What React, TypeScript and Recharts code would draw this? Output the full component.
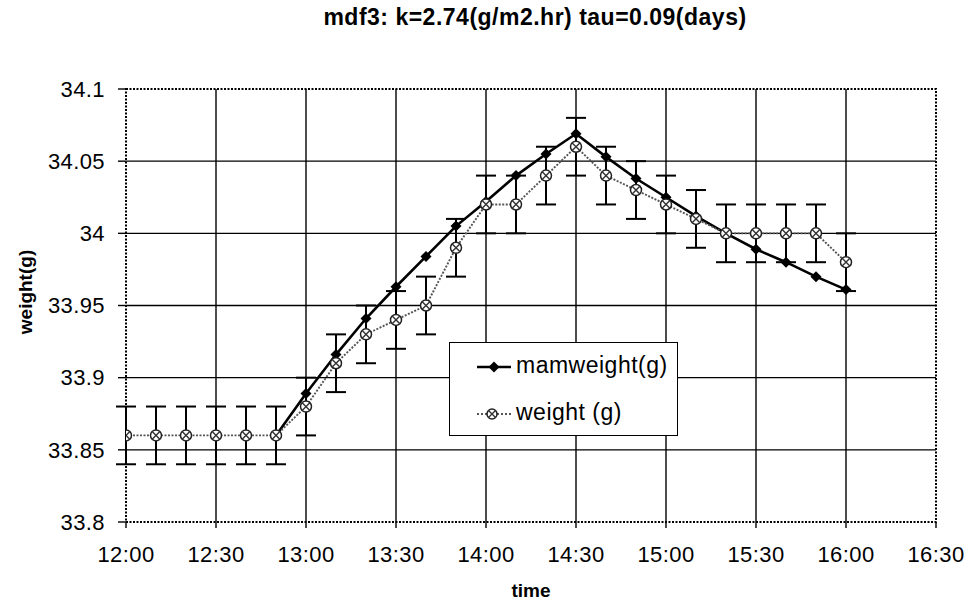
import React from "react"
import {
    LineChart,
    Line,
    XAxis,
    YAxis,
    CartesianGrid,
    ErrorBar,
    Legend,
    ReferenceArea,
} from "recharts"

// ─── Data ────────────────────────────────────────────────────────────────────

const TIMES = [
    "12:00", "12:10", "12:20", "12:30", "12:40", "12:50",
    "13:00", "13:10", "13:20", "13:30", "13:40", "13:50",
    "14:00", "14:10", "14:20", "14:30", "14:40", "14:50",
    "15:00", "15:10", "15:20", "15:30", "15:40", "15:50",
    "16:00",
]

const MAMWEIGHT = [
    null, null, null, null, null, 33.86,
    33.889, 33.916, 33.941, 33.963, 33.984, 34.005,
    34.022, 34.04, 34.055, 34.069, 34.053, 34.038,
    34.025, 34.012, 34.0, 33.989, 33.98, 33.97,
    33.961,
]

const WEIGHT = [
    33.86, 33.86, 33.86, 33.86, 33.86, 33.86,
    33.88, 33.91, 33.93, 33.94, 33.95, 33.99,
    34.02, 34.02, 34.04, 34.06, 34.04, 34.03,
    34.02, 34.01, 34.0, 34.0, 34.0, 34.0,
    33.98,
]

const WEIGHT_ERR = [
    0.02, 0.02, 0.02, 0.02, 0.02, 0.02,
    0.02, 0.02, 0.02, 0.02, 0.02, 0.02,
    0.02, 0.02, 0.02, 0.02, 0.02, 0.02,
    0.02, 0.02, 0.02, 0.02, 0.02, 0.02,
    0.02,
]

const X_TICKS = ["12:00", "12:30", "13:00", "13:30", "14:00", "14:30", "15:00", "15:30", "16:00", "16:30"]
const Y_TICKS = [33.8, 33.85, 33.9, 33.95, 34, 34.05, 34.1]

const TITLE = "mdf3: k=2.74(g/m2.hr) tau=0.09(days)"
const X_TITLE = "time"
const Y_TITLE = "weight(g)"

// ─── Helpers ─────────────────────────────────────────────────────────────────

const FONT = "'Liberation Sans', Arial, sans-serif"
const START = "12:00"

const toMin = (t: string) => {
    const [h, m] = t.split(":").map(Number)
    const [h0, m0] = START.split(":").map(Number)
    return (h - h0) * 60 + (m - m0)
}

const fmtMin = (v: number) => {
    const [h0] = START.split(":").map(Number)
    const h = h0 + Math.floor(v / 60)
    const m = v % 60
    return `${h}:${m < 10 ? "0" : ""}${m}`
}

const DATA = TIMES.map((t, i) => ({
    t: toMin(t),
    mam: MAMWEIGHT[i],
    weight: WEIGHT[i],
    err: WEIGHT_ERR[i],
}))

const xTicks = X_TICKS.map(toMin)
const xMax = xTicks[xTicks.length - 1]
const yMin = Y_TICKS[0]
const yMax = Y_TICKS[Y_TICKS.length - 1]

// ─── Markers ─────────────────────────────────────────────────────────────────

function Diamond({ cx, cy, r = 5.5 }: { cx: number; cy: number; r?: number }) {
    return <path d={`M${cx},${cy - r}L${cx + r},${cy}L${cx},${cy + r}L${cx - r},${cy}Z`} fill="#000" />
}

function Crossed({ cx, cy, r = 5.5 }: { cx: number; cy: number; r?: number }) {
    const d = r * 0.7
    return (
        <g>
            <circle cx={cx} cy={cy} r={r} fill="#fff" stroke="#222" strokeWidth={1.5} />
            <path
                d={`M${cx - d},${cy - d}L${cx + d},${cy + d}M${cx + d},${cy - d}L${cx - d},${cy + d}`}
                stroke="#333"
                strokeWidth={1.4}
            />
        </g>
    )
}

const mamDot = (p: any) => {
    if (p.cx == null || p.cy == null || p.value == null) return <g key={p.index} />
    return <Diamond key={p.index} cx={p.cx} cy={p.cy} />
}

const weightDot = (p: any) => {
    if (p.cx == null || p.cy == null) return <g key={p.index} />
    return <Crossed key={p.index} cx={p.cx} cy={p.cy} />
}

// ─── Legend ──────────────────────────────────────────────────────────────────

function ChartLegend() {
    const row = { display: "flex", alignItems: "center", height: 47 }
    return (
        <div
            style={{
                width: 229,
                height: 94,
                boxSizing: "border-box",
                border: "1.5px solid #000",
                background: "#fff",
                fontFamily: FONT,
                fontSize: 23,
                letterSpacing: 0.5,
                color: "#000",
                paddingLeft: 26,
            }}
        >
            <div style={row}>
                <svg width={40} height={20}>
                    <line x1={1} y1={10} x2={35} y2={10} stroke="#000" strokeWidth={2.5} />
                    <Diamond cx={18} cy={10} />
                </svg>
                <span style={{ marginTop: -2 }}>mamweight(g)</span>
            </div>
            <div style={row}>
                <svg width={40} height={20}>
                    <line x1={1} y1={10} x2={35} y2={10} stroke="#555" strokeWidth={1.8} strokeDasharray="2 2" />
                    <Crossed cx={16} cy={10} r={5} />
                </svg>
                <span style={{ marginTop: -2 }}>weight (g)</span>
            </div>
        </div>
    )
}

// ─── Chart ───────────────────────────────────────────────────────────────────

export default function App() {
    const tickStyle = { fontSize: 22, fill: "#000", fontFamily: FONT, letterSpacing: 0.4 }
    return (
        <div style={{ position: "absolute", left: 0, top: 0, width: 970, height: 608, background: "#fff", fontFamily: FONT }}>
            <div
                style={{
                    position: "absolute",
                    left: 0,
                    top: 6,
                    width: 1070,
                    textAlign: "center",
                    fontSize: 23,
                    lineHeight: "23px",
                    fontWeight: "bold",
                    letterSpacing: 0.5,
                }}
            >
                {TITLE}
            </div>
            <div
                style={{
                    position: "absolute",
                    left: 126,
                    width: 810,
                    top: 581,
                    textAlign: "center",
                    fontSize: 19,
                    lineHeight: "19px",
                    fontWeight: "bold",
                }}
            >
                {X_TITLE}
            </div>
            <div
                style={{
                    position: "absolute",
                    left: 25,
                    top: 292,
                    transform: "translate(-50%, -50%) rotate(-90deg)",
                    fontSize: 19,
                    lineHeight: "19px",
                    fontWeight: "bold",
                    whiteSpace: "nowrap",
                }}
            >
                {Y_TITLE}
            </div>
            <LineChart
                width={970}
                height={608}
                data={DATA}
                margin={{ top: 89, right: 34, bottom: 0, left: 0 }}
                style={{ position: "absolute", left: 0, top: 0, fontFamily: FONT }}
            >
                <CartesianGrid
                    stroke="#000"
                    strokeWidth={1.4}
                    horizontalValues={Y_TICKS.slice(1, -1)}
                    verticalValues={xTicks.slice(1, -1)}
                />
                <ReferenceArea
                    x1={0}
                    x2={xMax}
                    y1={yMin}
                    y2={yMax}
                    fill="none"
                    stroke="#000"
                    strokeWidth={2}
                    strokeDasharray="2 1.5"
                    ifOverflow="visible"
                />
                <XAxis
                    dataKey="t"
                    type="number"
                    domain={[0, xMax]}
                    ticks={xTicks}
                    tickFormatter={fmtMin}
                    height={86}
                    axisLine={false}
                    tickLine={{ stroke: "#000", strokeWidth: 1.4 }}
                    tickSize={6}
                    tickMargin={18}
                    tick={tickStyle}
                    interval={0}
                    allowDataOverflow
                />
                <YAxis
                    type="number"
                    domain={[yMin, yMax]}
                    ticks={Y_TICKS}
                    tickFormatter={(v: number) => String(Number(v.toFixed(2)))}
                    width={126}
                    axisLine={false}
                    tickLine={{ stroke: "#000", strokeWidth: 1.4 }}
                    tickSize={8}
                    tickMargin={13}
                    tick={tickStyle}
                    interval={0}
                    allowDataOverflow
                />
                <Legend
                    layout="vertical"
                    align="center"
                    verticalAlign="middle"
                    content={<ChartLegend />}
                    wrapperStyle={{ left: 449, top: 342, width: 229, height: 94 }}
                />
                <Line
                    dataKey="mam"
                    stroke="#000"
                    strokeWidth={2.6}
                    dot={mamDot}
                    activeDot={false}
                    connectNulls={false}
                    isAnimationActive={false}
                    legendType="none"
                />
                <Line
                    dataKey="weight"
                    stroke="#555"
                    strokeWidth={1.9}
                    strokeDasharray="2 1.5"
                    dot={weightDot}
                    activeDot={false}
                    isAnimationActive={false}
                    legendType="none"
                >
                    <ErrorBar dataKey="err" direction="y" width={10} stroke="#000" strokeWidth={2} />
                </Line>
            </LineChart>
        </div>
    )
}
